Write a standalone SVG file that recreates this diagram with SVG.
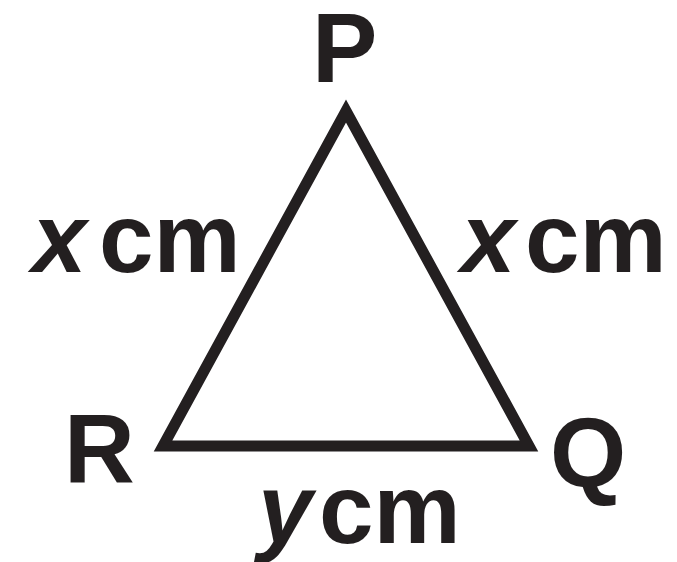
<svg xmlns="http://www.w3.org/2000/svg" width="677" height="562" viewBox="0 0 677 562">
<style>
.t{font-family:"Liberation Sans",Arial,sans-serif;font-weight:bold;font-size:98px;fill:#231f20}
.i{font-style:italic}
.e{fill:none;stroke:#231f20;stroke-width:11;stroke-linejoin:miter;stroke-miterlimit:10}
</style>
<rect width="677" height="562" fill="#fff"/>
<g id="connectors">
<polygon class="e" points="346,111 529,446 163,446"/>
</g>
<g id="P"><text class="t" x="312" y="82">P</text></g>
<g id="R"><text class="t" x="64" y="483">R</text></g>
<g id="Q"><text class="t" x="550" y="487">Q</text></g>
<g id="label-PR"><text class="t" y="272"><tspan class="i" x="32">x</tspan><tspan x="99">cm</tspan></text></g>
<g id="label-PQ"><text class="t" y="272"><tspan class="i" x="461">x</tspan><tspan x="525">cm</tspan></text></g>
<g id="label-RQ"><text class="t" y="543"><tspan class="i" x="258">y</tspan><tspan x="319">cm</tspan></text></g>
</svg>
